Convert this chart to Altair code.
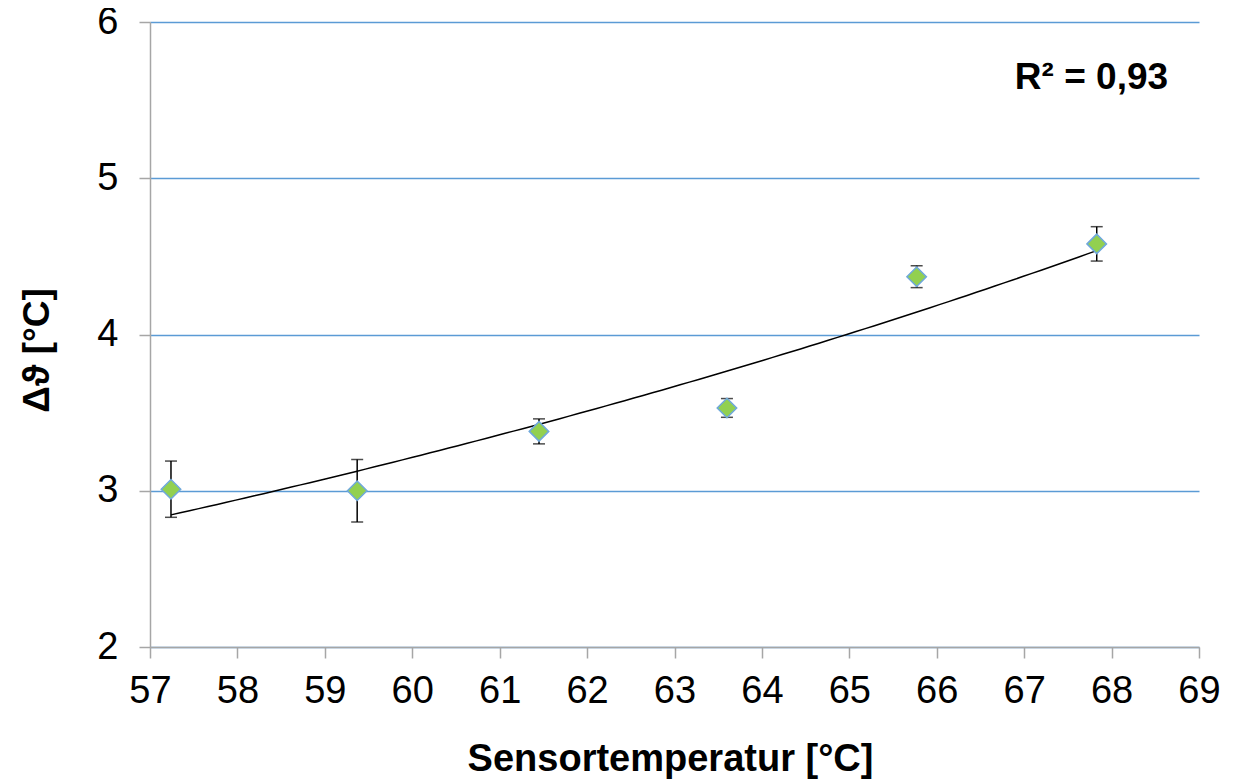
import altair as alt
import pandas as pd

# Data
sensor_temp = [57.24, 59.37, 61.45, 63.60, 65.77, 67.83]
delta_theta = [3.01, 3.00, 3.38, 3.53, 4.37, 4.58]
err_low = [2.83, 2.80, 3.30, 3.47, 4.30, 4.47]
err_high = [3.19, 3.20, 3.46, 3.59, 4.44, 4.69]

x_ticks = list(range(57, 70))
y_ticks = [2, 3, 4, 5, 6]

annotation_text = ["R² = 0,93"]
annotation_x = [67.77]
annotation_y = [5.64]

df = pd.DataFrame({"x": sensor_temp, "y": delta_theta, "lo": err_low, "hi": err_high})
ann = pd.DataFrame({"x": annotation_x, "y": annotation_y, "t": annotation_text})

FONT = "Liberation Sans"
xscale = alt.Scale(domain=[57, 69], nice=False, zero=False)
yscale = alt.Scale(domain=[2, 6], nice=False, zero=False)

xaxis = alt.Axis(
    values=x_ticks, format="d", title="Sensortemperatur [°C]", grid=False,
    domainColor="#A6A6A6", domainWidth=1.5, tickColor="#A6A6A6", tickWidth=1.5, tickSize=11,
    labelFont=FONT, labelFontSize=38, labelColor="black", labelPadding=14, labelFlush=False,
    titleFont=FONT, titleFontSize=38, titleFontWeight="bold", titleColor="black",
    titleX=520, titleY=123, titleBaseline="alphabetic", zindex=2,
)
yaxis = alt.Axis(
    values=y_ticks, format="d", title="Δϑ [°C]", grid=True, gridColor="#5B9BD5", gridWidth=1.3,
    domainColor="#A6A6A6", domainWidth=1.5, tickColor="#A6A6A6", tickWidth=1.5, tickSize=11,
    labelFont=FONT, labelFontSize=38, labelColor="black", labelPadding=21, labelFlush=False,
    titleFont=FONT, titleFontSize=37, titleFontWeight="bold", titleColor="black",
    titleX=-113, titleY=328, titleAngle=-90, titleAlign="center", titleBaseline="middle",
)

base = alt.Chart(df)

xmin, xmax = min(sensor_temp), max(sensor_temp)
step = (xmax - xmin) / 100
trend = (
    base.transform_calculate(ly="log(datum.y)")
    .transform_regression("x", "ly", method="linear", params=True)
    .transform_calculate(xs=f"sequence({xmin}, {xmax + step / 2}, {step})")
    .transform_flatten(["xs"])
    .transform_calculate(fit="exp(datum.coef[0] + datum.coef[1] * datum.xs)")
    .mark_line(color="black", strokeWidth=1.5)
    .encode(x=alt.X("xs:Q", scale=xscale, axis=xaxis), y=alt.Y("fit:Q", scale=yscale, axis=yaxis))
)

bars = base.mark_rule(color="black", strokeWidth=1.5).encode(
    x=alt.X("x:Q", scale=xscale), y=alt.Y("lo:Q", scale=yscale), y2="hi:Q"
)
cap_lo = base.mark_tick(color="black", orient="horizontal", size=12, thickness=1.5).encode(
    x=alt.X("x:Q", scale=xscale), y=alt.Y("lo:Q", scale=yscale)
)
cap_hi = base.mark_tick(color="black", orient="horizontal", size=12, thickness=1.5).encode(
    x=alt.X("x:Q", scale=xscale), y=alt.Y("hi:Q", scale=yscale)
)
points = base.mark_point(
    shape="diamond", size=380, filled=True, fill="#92D050", stroke="#6FA8DC", strokeWidth=1.5, opacity=1
).encode(x=alt.X("x:Q", scale=xscale), y=alt.Y("y:Q", scale=yscale))

label = alt.Chart(ann).mark_text(
    font=FONT, fontSize=37, fontWeight="bold", color="black", align="center", baseline="middle"
).encode(x=alt.X("x:Q", scale=xscale), y=alt.Y("y:Q", scale=yscale), text="t:N")

chart = (
    alt.layer(trend, bars, cap_lo, cap_hi, points, label)
    .properties(
        width=1049, height=625,
        autosize=alt.AutoSizeParams(type="none"),
        padding={"left": 142, "top": 14, "right": 28, "bottom": 133},
        background="white",
    )
    .configure_view(stroke=None)
)

chart.save("out.html", embed_options={"renderer": "svg", "actions": False})
